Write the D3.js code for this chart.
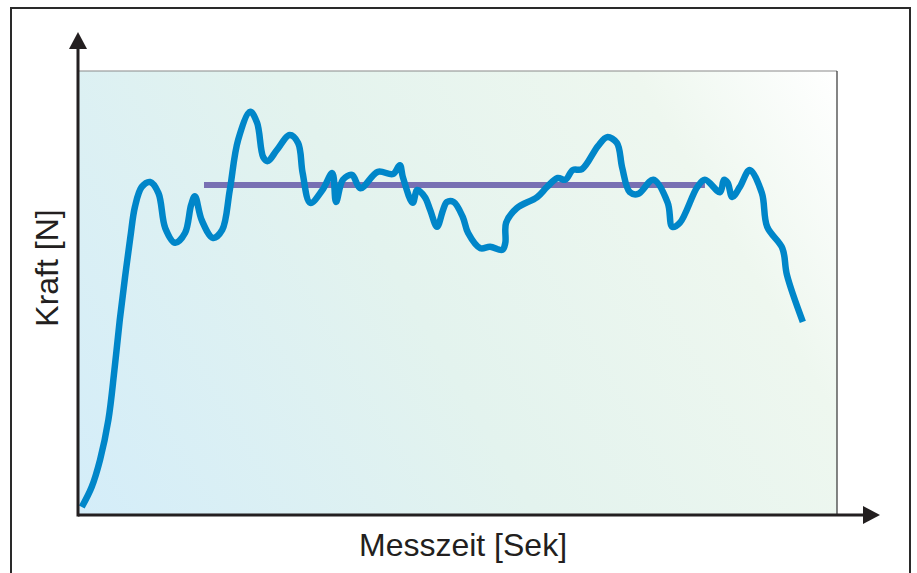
<!DOCTYPE html>
<html>
<head>
<meta charset="utf-8">
<script src="https://cdn.jsdelivr.net/npm/d3@7"></script>
<style>
  html, body { margin: 0; padding: 0; background: #fff; }
  svg { display: block; }
</style>
</head>
<body>
<svg id="chart" width="917" height="573"></svg>
<script>
// Messzeit (relative units) and Kraft (relative units)
const zeit = [0.5, 1.8, 2.9, 4.0, 4.8, 5.5, 6.2, 6.9, 7.5, 8.4, 9.5, 10.6, 11.5, 12.8, 14.1, 14.9, 15.4, 16.3, 17.8, 19.0, 20.0, 21.1, 22.7, 23.6, 24.4, 25.0, 26.2, 27.9, 29.0, 29.6, 30.6, 32.2, 33.5, 34.0, 34.9, 36.1, 37.2, 39.5, 41.5, 42.4, 42.8, 44.1, 44.7, 45.7, 46.4, 47.3, 48.1, 48.6, 49.5, 50.7, 51.4, 53.0, 54.3, 55.9, 56.3, 56.4, 57.8, 60.5, 61.8, 63.2, 64.2, 65.2, 66.4, 68.5, 69.7, 71.0, 71.7, 72.7, 73.8, 75.8, 77.7, 78.3, 79.3, 81.6, 82.6, 84.6, 85.1, 85.6, 86.2, 87.2, 88.5, 90.1, 90.8, 92.8, 93.4, 95.5];
const kraft = [1.8, 6.3, 12.4, 21.4, 32.7, 43.9, 53.6, 62.6, 69.4, 73.9, 75.0, 72.5, 64.6, 61.3, 63.5, 69.8, 71.8, 66.4, 62.4, 64.2, 73.2, 84.5, 90.8, 88.3, 80.6, 79.7, 82.2, 85.6, 83.8, 77.0, 70.3, 73.2, 77.0, 70.5, 75.5, 76.6, 73.6, 77.3, 76.8, 78.8, 76.1, 70.3, 73.2, 71.6, 68.7, 64.9, 68.7, 70.5, 70.5, 67.1, 63.5, 60.1, 60.4, 59.7, 61.3, 65.8, 69.1, 71.6, 73.9, 75.9, 75.5, 77.7, 77.9, 83.1, 85.1, 83.8, 78.2, 72.7, 72.3, 75.5, 70.3, 64.9, 65.8, 73.9, 75.5, 72.7, 75.5, 74.8, 71.6, 73.9, 77.7, 72.5, 64.9, 60.1, 54.1, 43.5];
// Mittelwert line
const mittelZeit = [16.6, 82.6];
const mittelKraft = [74.3, 74.3];

const xLabel = "Messzeit [Sek]";
const yLabel = "Kraft [N]";

const svg = d3.select("#chart");
const pLeft = 78, pRight = 837, pTop = 71, pBottom = 515;

const x = d3.scaleLinear().domain([0, 100]).range([pLeft, pRight]);
const y = d3.scaleLinear().domain([0, 100]).range([pBottom, pTop]);

// outer frame
svg.append("rect")
  .attr("x", 11).attr("y", 8).attr("width", 899).attr("height", 575)
  .attr("fill", "none").attr("stroke", "#2a2a2a").attr("stroke-width", 2);

// gradient background
const defs = svg.append("defs");
const grad = defs.append("linearGradient").attr("id", "bg")
  .attr("gradientUnits", "userSpaceOnUse")
  .attr("x1", pLeft).attr("y1", pBottom).attr("x2", pRight).attr("y2", pTop);
grad.append("stop").attr("offset", "0%").attr("stop-color", "#d4edf9");
grad.append("stop").attr("offset", "45%").attr("stop-color", "#e3f3ee");
grad.append("stop").attr("offset", "80%").attr("stop-color", "#eef7ef");
grad.append("stop").attr("offset", "100%").attr("stop-color", "#ffffff");

svg.append("rect")
  .attr("x", pLeft).attr("y", pTop).attr("width", pRight - pLeft).attr("height", pBottom - pTop)
  .attr("fill", "url(#bg)");
svg.append("line").attr("x1", pLeft).attr("x2", pRight).attr("y1", pTop).attr("y2", pTop)
  .attr("stroke", "#8a8a8a").attr("stroke-width", 1.2);
svg.append("line").attr("x1", pRight).attr("x2", pRight).attr("y1", pTop).attr("y2", pBottom)
  .attr("stroke", "#333").attr("stroke-width", 1.2);

// mean line
const pts = zeit.map((t, i) => [t, kraft[i]]);
svg.append("path")
  .datum(mittelZeit.map((t, i) => [t, mittelKraft[i]]))
  .attr("d", d3.line().x(d => x(d[0])).y(d => y(d[1])))
  .attr("stroke", "#7870b3").attr("stroke-width", 6).attr("fill", "none");

// force curve
svg.append("path")
  .datum(pts)
  .attr("d", d3.line().x(d => x(d[0])).y(d => y(d[1])).curve(d3.curveCatmullRom.alpha(0.5)))
  .attr("stroke", "#0086c9").attr("stroke-width", 6.5).attr("fill", "none")
  .attr("stroke-linejoin", "round").attr("stroke-linecap", "butt");

// axes with arrows
svg.append("line").attr("x1", pLeft).attr("x2", 866).attr("y1", pBottom).attr("y2", pBottom)
  .attr("stroke", "#231f20").attr("stroke-width", 3);
svg.append("line").attr("x1", pLeft).attr("x2", pLeft).attr("y1", pBottom + 1.5).attr("y2", 46)
  .attr("stroke", "#231f20").attr("stroke-width", 3);
svg.append("path").attr("d", `M863,${pBottom - 9} L880,${pBottom} L863,${pBottom + 9} Z`).attr("fill", "#231f20");
svg.append("path").attr("d", `M${pLeft - 9},49 L${pLeft},32 L${pLeft + 9},49 Z`).attr("fill", "#231f20");

// labels
svg.append("text").attr("x", 463).attr("y", 556).attr("text-anchor", "middle")
  .attr("font-family", "Liberation Sans, Arial, sans-serif").attr("font-size", 32)
  .attr("fill", "#231f20").text(xLabel);
svg.append("text").attr("transform", "translate(58,268) rotate(-90)").attr("text-anchor", "middle")
  .attr("font-family", "Liberation Sans, Arial, sans-serif").attr("font-size", 32)
  .attr("fill", "#231f20").text(yLabel);
</script>
</body>
</html>
